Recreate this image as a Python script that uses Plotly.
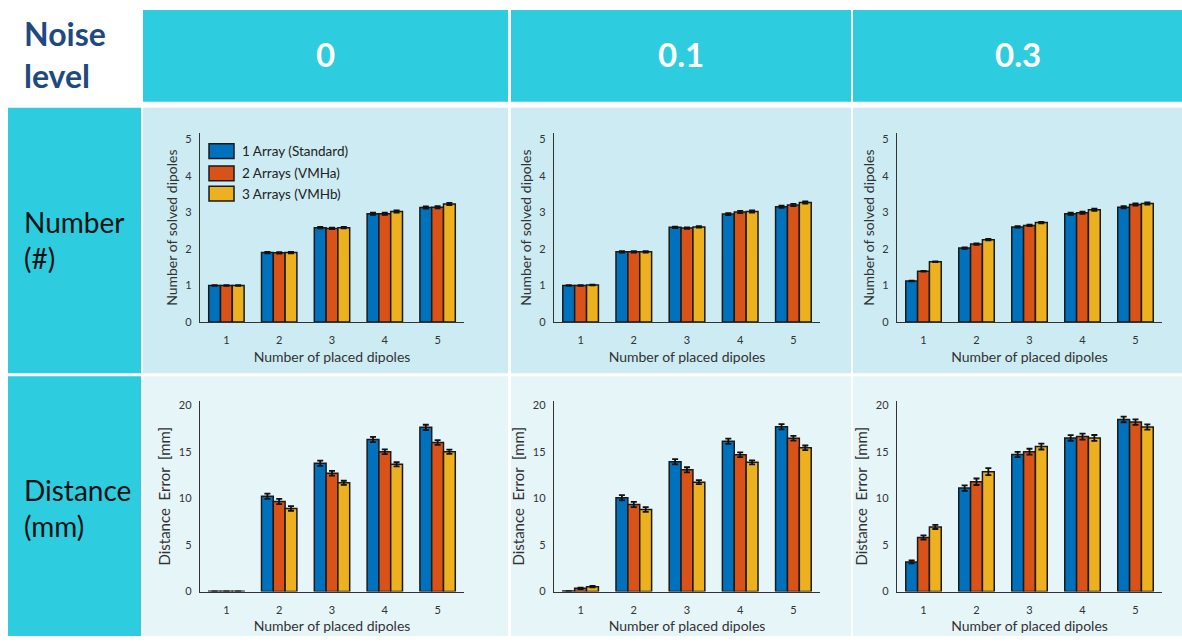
import plotly.graph_objects as go

W, H = 1182, 642

# ---------------- data ----------------
series_names = ["1 Array (Standard)", "2 Arrays (VMHa)", "3 Arrays (VMHb)"]
series_colors = ["#0072BD", "#D95319", "#EDB120"]
noise_levels = ["0", "0.1", "0.3"]
row_labels = ["Number<br>(#)", "Distance<br>(mm)"]
placed = [1, 2, 3, 4, 5]

# Number of solved dipoles, per noise level: [standard, VMHa, VMHb]
num_noise_0 = [[1.00, 1.90, 2.58, 2.96, 3.13],
               [1.00, 1.89, 2.56, 2.96, 3.14],
               [1.00, 1.90, 2.58, 3.02, 3.23]]
num_noise_01 = [[1.00, 1.92, 2.59, 2.95, 3.15],
                [1.00, 1.92, 2.57, 3.01, 3.20],
                [1.01, 1.92, 2.60, 3.02, 3.27]]
num_noise_03 = [[1.12, 2.02, 2.60, 2.96, 3.14],
                [1.39, 2.13, 2.64, 2.99, 3.21],
                [1.65, 2.25, 2.72, 3.07, 3.24]]
num_err = [[0.01, 0.02, 0.02, 0.03, 0.03],
           [0.01, 0.02, 0.02, 0.03, 0.03],
           [0.01, 0.02, 0.02, 0.03, 0.03]]

# Distance error (mm)
dist_noise_0 = [[0.03, 10.25, 13.80, 16.35, 17.66],
                [0.03, 9.68, 12.73, 15.04, 16.03],
                [0.03, 8.94, 11.70, 13.69, 15.04]]
dist_noise_01 = [[0.05, 10.10, 13.97, 16.17, 17.73],
                 [0.35, 9.36, 13.09, 14.72, 16.49],
                 [0.53, 8.83, 11.77, 13.90, 15.46]]
dist_noise_03 = [[3.19, 11.13, 14.75, 16.52, 18.51],
                 [5.82, 11.81, 15.04, 16.67, 18.23],
                 [6.95, 12.90, 15.60, 16.52, 17.70]]
dist_err_0 = [[0.0, 0.28, 0.28, 0.28, 0.28],
              [0.0, 0.28, 0.25, 0.25, 0.25],
              [0.0, 0.25, 0.22, 0.22, 0.22]]
dist_err_01 = [[0.0, 0.28, 0.28, 0.28, 0.28],
               [0.08, 0.28, 0.28, 0.25, 0.25],
               [0.08, 0.25, 0.22, 0.22, 0.25]]
dist_err_03 = [[0.15, 0.30, 0.28, 0.30, 0.30],
               [0.22, 0.35, 0.32, 0.32, 0.30],
               [0.22, 0.38, 0.32, 0.32, 0.28]]

panels = [
    [(num_noise_0, num_err), (num_noise_01, num_err), (num_noise_03, num_err)],
    [(dist_noise_0, dist_err_0), (dist_noise_01, dist_err_01), (dist_noise_03, dist_err_03)],
]
y_titles = ["Number of solved dipoles", "Distance  Error  [mm]"]
y_ranges = [[0, 5.16], [0, 20.5]]
y_ticks = [[0, 1, 2, 3, 4, 5], [0, 5, 10, 15, 20]]
x_title = "Number of placed dipoles"

# ---------------- layout geometry (pixels) ----------------
col_px = [(200, 464), (554, 820), (897, 1162)]
row_px = [(133, 324), (404, 597)]
header_cells = [(143, 508), (511, 851), (853, 1182)]
row_cells = [(107, 376), (379, 642)]
CYAN = "#2DCCDF"
ROW_BG = ["#CCEBF3", "#E6F5F8"]
FONT = "Lato"


def px(x):
    return x / W


def py(y):
    return 1 - y / H


fig = go.Figure()
shapes = []
annotations = []

# table backgrounds
for (x0, x1), lab in zip(header_cells, noise_levels):
    shapes.append(dict(type="rect", xref="paper", yref="paper", layer="below",
                       x0=px(x0), x1=px(x1), y0=py(101), y1=py(8),
                       fillcolor=CYAN, line=dict(width=0)))
    annotations.append(dict(xref="paper", yref="paper", x=px((x0 + x1) / 2), y=py(53),
                            text="<b>%s</b>" % lab, showarrow=False,
                            font=dict(family=FONT, size=33, color="white"),
                            xanchor="center", yanchor="middle"))
for r, (y0, y1) in enumerate(row_cells):
    shapes.append(dict(type="rect", xref="paper", yref="paper", layer="below",
                       x0=px(8), x1=px(141), y0=py(y1), y1=py(y0),
                       fillcolor=CYAN, line=dict(width=0)))
    for (x0, x1) in header_cells:
        shapes.append(dict(type="rect", xref="paper", yref="paper", layer="below",
                           x0=px(x0), x1=px(x1), y0=py(y1), y1=py(y0),
                           fillcolor=ROW_BG[r], line=dict(width=0)))

annotations.append(dict(xref="paper", yref="paper", x=px(22), y=py(53),
                        text="<b>Noise<br>level</b>", showarrow=False, align="left",
                        font=dict(family=FONT, size=32, color="#1F4A80"),
                        xanchor="left", yanchor="middle"))
for lab, yc in zip(row_labels, [241, 512]):
    annotations.append(dict(xref="paper", yref="paper", x=px(22), y=py(yc),
                            text=lab, showarrow=False, align="left",
                            font=dict(family=FONT, size=28, color="#111111"),
                            xanchor="left", yanchor="middle"))

# subplots
for r in range(2):
    for c in range(3):
        idx = r * 3 + c + 1
        xa = "x" if idx == 1 else "x%d" % idx
        ya = "y" if idx == 1 else "y%d" % idx
        vals, errs = panels[r][c]
        for s in range(3):
            fig.add_trace(go.Bar(
                x=placed, y=vals[s], name=series_names[s],
                marker=dict(color=series_colors[s], line=dict(color="#1a1a1a", width=1.5)),
                error_y=dict(type="data", array=errs[s], color="#111111",
                             thickness=1.8, width=3),
                xaxis=xa, yaxis=ya, showlegend=False, offsetgroup=str(s)))
        x0, x1 = col_px[c]
        y0, y1 = row_px[r]
        xkey = "xaxis" if idx == 1 else "xaxis%d" % idx
        ykey = "yaxis" if idx == 1 else "yaxis%d" % idx
        fig.update_layout(**{
            xkey: dict(domain=[px(x0), px(x1)], anchor=ya, range=[0.5, 5.5],
                       tickvals=placed, showline=True, linecolor="#333333", linewidth=1.4,
                       showgrid=False, zeroline=False, ticks="", ticklabelstandoff=8,
                       tickfont=dict(family=FONT, size=11, color="#333333"),
                       title=dict(text=x_title, standoff=6,
                                  font=dict(family=FONT, size=14, color="#333333"))),
            ykey: dict(domain=[py(y1), py(y0)], anchor=xa, range=y_ranges[r],
                       tickvals=y_ticks[r], showline=True, linecolor="#333333", linewidth=1.4,
                       showgrid=False, zeroline=False, ticks="", ticklabelstandoff=5,
                       tickfont=dict(family=FONT, size=11, color="#333333"),
                       title=dict(text=y_titles[r], standoff=4,
                                  font=dict(family=FONT, size=14 if r == 0 else 15,
                                            color="#333333"))),
        })

# legend (drawn inside the first panel)
for s, yc in enumerate([151, 173.5, 194]):
    shapes.append(dict(type="rect", xref="paper", yref="paper",
                       x0=px(209), x1=px(234), y0=py(yc + 7.5), y1=py(yc - 7.5),
                       fillcolor=series_colors[s], line=dict(color="#1a1a1a", width=1.5)))
    annotations.append(dict(xref="paper", yref="paper", x=px(240), y=py(yc),
                            text=series_names[s], showarrow=False,
                            font=dict(family=FONT, size=13.5, color="#222222"),
                            xanchor="left", yanchor="middle"))

fig.update_layout(
    width=W, height=H, margin=dict(l=0, r=0, t=0, b=0),
    paper_bgcolor="white", plot_bgcolor="rgba(0,0,0,0)",
    barmode="group", bargap=0.33, bargroupgap=0.0,
    shapes=shapes, annotations=annotations, showlegend=False,
)

fig.write_html("out.html")
